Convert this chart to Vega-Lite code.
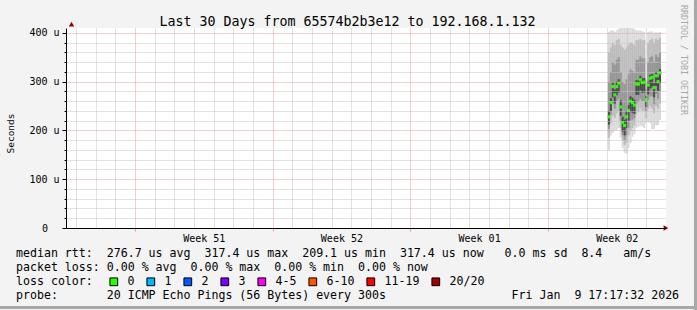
{
  "$schema": "https://vega.github.io/schema/vega-lite/v6.json",
  "width": 600,
  "height": 200,
  "autosize": {"type": "none"},
  "padding": {"left": 66, "top": 28, "right": 31, "bottom": 82},
  "background": "#f3f3f3",
  "config": {
    "font": "DejaVu Sans Mono",
    "view": {"fill": "#ffffff", "stroke": null}
  },
  "title": {
    "text": "Last 30 Days from 65574b2b3e12 to 192.168.1.132",
    "font": "DejaVu Sans Mono",
    "fontSize": 13.3,
    "fontWeight": "normal",
    "color": "#000000",
    "anchor": "middle",
    "frame": "group",
    "dx": -18.5,
    "baseline": "alphabetic",
    "offset": -41
  },
  "datasets": {
    "smoke": [
      {"t": 27.35, "lo": 160, "p10": 185, "p25": 203, "p40": 212, "med": 228, "p60": 240, "p75": 300, "p90": 360, "hi": 402, "loss": "0"},
      {"t": 27.45, "lo": 190, "p10": 215, "p25": 232, "p40": 240, "med": 257, "p60": 266, "p75": 320, "p90": 370, "hi": 405, "loss": "0"},
      {"t": 27.55, "lo": 195, "p10": 230, "p25": 255, "p40": 268, "med": 290, "p60": 298, "p75": 340, "p90": 380, "hi": 405, "loss": "0"},
      {"t": 27.65, "lo": 200, "p10": 225, "p25": 245, "p40": 255, "med": 273, "p60": 284, "p75": 335, "p90": 375, "hi": 402, "loss": "0"},
      {"t": 27.75, "lo": 200, "p10": 235, "p25": 260, "p40": 272, "med": 290, "p60": 300, "p75": 345, "p90": 385, "hi": 405, "loss": "0"},
      {"t": 27.85, "lo": 205, "p10": 240, "p25": 265, "p40": 278, "med": 297, "p60": 305, "p75": 350, "p90": 388, "hi": 408, "loss": "0"},
      {"t": 27.95, "lo": 185, "p10": 205, "p25": 220, "p40": 230, "med": 248, "p60": 262, "p75": 320, "p90": 375, "hi": 410, "loss": "0"},
      {"t": 28.05, "lo": 164, "p10": 180, "p25": 190, "p40": 198, "med": 216, "p60": 228, "p75": 300, "p90": 370, "hi": 410, "loss": "0"},
      {"t": 28.15, "lo": 154, "p10": 170, "p25": 180, "p40": 190, "med": 210, "p60": 222, "p75": 295, "p90": 365, "hi": 410, "loss": "0"},
      {"t": 28.25, "lo": 152, "p10": 175, "p25": 190, "p40": 205, "med": 228, "p60": 240, "p75": 305, "p90": 370, "hi": 410, "loss": "0"},
      {"t": 28.35, "lo": 164, "p10": 190, "p25": 205, "p40": 220, "med": 241, "p60": 252, "p75": 315, "p90": 375, "hi": 410, "loss": "0"},
      {"t": 28.45, "lo": 174, "p10": 200, "p25": 220, "p40": 238, "med": 260, "p60": 270, "p75": 325, "p90": 380, "hi": 410, "loss": "0"},
      {"t": 28.55, "lo": 187, "p10": 205, "p25": 222, "p40": 236, "med": 257, "p60": 267, "p75": 322, "p90": 378, "hi": 410, "loss": "0"},
      {"t": 28.65, "lo": 192, "p10": 210, "p25": 225, "p40": 234, "med": 252, "p60": 263, "p75": 318, "p90": 375, "hi": 408, "loss": "0"},
      {"t": 28.75, "lo": 205, "p10": 235, "p25": 255, "p40": 273, "med": 295, "p60": 303, "p75": 345, "p90": 385, "hi": 405, "loss": "0"},
      {"t": 28.85, "lo": 207, "p10": 238, "p25": 258, "p40": 273, "med": 295, "p60": 303, "p75": 345, "p90": 385, "hi": 405, "loss": "0"},
      {"t": 28.95, "lo": 210, "p10": 245, "p25": 265, "p40": 282, "med": 304, "p60": 312, "p75": 352, "p90": 388, "hi": 405, "loss": "0"},
      {"t": 29.05, "lo": 208, "p10": 240, "p25": 260, "p40": 277, "med": 298, "p60": 307, "p75": 348, "p90": 385, "hi": 403, "loss": "0"},
      {"t": 29.15, "lo": 205, "p10": 240, "p25": 260, "p40": 278, "med": 299, "p60": 307, "p75": 348, "p90": 385, "hi": 402, "loss": "0"},
      {"t": 29.25, "lo": 215, "p10": 225, "p25": 238, "p40": 248, "med": 263, "p60": 270, "p75": 285, "p90": 295, "hi": 302, "loss": "0"},
      {"t": 29.35, "lo": 217, "p10": 245, "p25": 262, "p40": 274, "med": 293, "p60": 300, "p75": 340, "p90": 380, "hi": 402, "loss": "0"},
      {"t": 29.45, "lo": 215, "p10": 250, "p25": 270, "p40": 286, "med": 307, "p60": 314, "p75": 350, "p90": 385, "hi": 403, "loss": "0"},
      {"t": 29.55, "lo": 203, "p10": 245, "p25": 270, "p40": 288, "med": 309, "p60": 316, "p75": 352, "p90": 388, "hi": 403, "loss": "0"},
      {"t": 29.65, "lo": 203, "p10": 235, "p25": 254, "p40": 268, "med": 288, "p60": 297, "p75": 340, "p90": 380, "hi": 400, "loss": "0"},
      {"t": 29.75, "lo": 211, "p10": 250, "p25": 275, "p40": 291, "med": 312, "p60": 320, "p75": 355, "p90": 388, "hi": 402, "loss": "0"},
      {"t": 29.85, "lo": 211, "p10": 245, "p25": 265, "p40": 281, "med": 300, "p60": 309, "p75": 350, "p90": 385, "hi": 400, "loss": "0"},
      {"t": 29.95, "lo": 221, "p10": 255, "p25": 280, "p40": 297, "med": 318, "p60": 326, "p75": 360, "p90": 390, "hi": 402, "loss": "0"}
    ],
    "notes": [
      {"row": 1, "text": "median\u00a0rtt:\u00a0\u00a0276.7\u00a0us\u00a0avg\u00a0\u00a0317.4\u00a0us\u00a0max\u00a0\u00a0209.1\u00a0us\u00a0min\u00a0\u00a0317.4\u00a0us\u00a0now\u00a0\u00a0\u00a00.0\u00a0ms\u00a0sd\u00a0\u00a08.4\u00a0\u00a0\u00a0am/s"},
      {"row": 2, "text": "packet\u00a0loss:\u00a00.00\u00a0%\u00a0avg\u00a0\u00a00.00\u00a0%\u00a0max\u00a0\u00a00.00\u00a0%\u00a0min\u00a0\u00a00.00\u00a0%\u00a0now"},
      {"row": 4, "text": "probe:\u00a0\u00a0\u00a0\u00a0\u00a0\u00a0\u00a020\u00a0ICMP\u00a0Echo\u00a0Pings\u00a0(56\u00a0Bytes)\u00a0every\u00a0300s\u00a0\u00a0\u00a0\u00a0\u00a0\u00a0\u00a0\u00a0\u00a0\u00a0\u00a0\u00a0\u00a0\u00a0\u00a0\u00a0\u00a0\u00a0Fri\u00a0Jan\u00a0\u00a09\u00a017:17:32\u00a02026"}
    ]
  },
  "layer": [
    {
      "data": {"name": "smoke"},
      "resolve": {"axis": {"x": "independent", "y": "independent"}},
      "layer": [
        {
          "mark": {"type": "bar", "orient": "vertical", "width": 2, "color": "#dadada"},
          "encoding": {
            "x": {"field": "t", "type": "quantitative", "scale": {"domain": [0, 30], "nice": false, "zero": false},
              "axis": {"orient": "bottom", "values": [0.25,1.25,2.25,4.25,5.25,6.25,7.25,8.25,9.25,11.25,12.25,13.25,14.25,15.25,16.25,18.25,19.25,20.25,21.25,22.25,23.25,25.25,26.25,27.25,28.25,29.25],
                "grid": true, "gridColor": "#c4c4c4", "gridDash": [1, 1], "gridWidth": 1, "labels": false, "ticks": false, "domain": false, "title": null, "zindex": 1}},
            "y": {"field": "lo", "type": "quantitative", "scale": {"domain": [0, 410], "nice": false, "zero": false},
              "axis": {"orient": "left", "values": [20,40,60,80,120,140,160,180,220,240,260,280,320,340,360,380],
                "grid": true, "gridColor": "#c4c4c4", "gridDash": [1, 1], "gridWidth": 1, "labels": false, "ticks": true, "tickSize": 2, "tickColor": "#000000", "domain": false, "title": null, "zindex": 1}},
            "y2": {"field": "hi"}
          }
        },
        {
          "mark": {"type": "bar", "orient": "vertical", "width": 2, "color": "#bcbcbc"},
          "encoding": {
            "x": {"field": "t", "type": "quantitative", "scale": {"domain": [0, 30], "nice": false, "zero": false},
              "axis": {"orient": "bottom", "values": [3.25, 10.25, 17.25, 24.25],
                "grid": true, "gridColor": "#e4a0a0", "gridDash": [1, 1], "gridWidth": 1, "labels": false, "ticks": true, "tickSize": 3, "tickColor": "#e4a0a0", "domain": false, "title": null, "zindex": 1}},
            "y": {"field": "p10", "type": "quantitative", "scale": {"domain": [0, 410], "nice": false, "zero": false},
              "axis": {"orient": "left", "values": [0, 100, 200, 300, 400],
                "grid": true, "gridColor": "#e4a0a0", "gridDash": [1, 1], "gridWidth": 1,
                "labelExpr": "datum.value == 0 ? '' : datum.value + ' u'",
                "labelFont": "DejaVu Sans Mono", "labelFontSize": 10, "labelColor": "#000000", "labelPadding": 3,
                "ticks": true, "tickSize": 4, "tickColor": "#000000", "domain": false, "title": null, "zindex": 1}},
            "y2": {"field": "p90"}
          }
        },
        {
          "mark": {"type": "bar", "orient": "vertical", "width": 2, "color": "#969696"},
          "encoding": {
            "x": {"field": "t", "type": "quantitative", "scale": {"domain": [0, 30], "nice": false, "zero": false},
              "axis": {"orient": "bottom", "values": [6.75, 13.75, 20.75, 27.75],
                "labelExpr": "datum.value < 10 ? 'Week 51' : datum.value < 17 ? 'Week 52' : datum.value < 24 ? 'Week 01' : 'Week 02'",
                "labelFont": "DejaVu Sans Mono", "labelFontSize": 10, "labelColor": "#000000", "labelPadding": 5,
                "grid": false, "ticks": false, "domain": true, "domainColor": "#000000", "domainWidth": 1, "title": null, "zindex": 1}},
            "y": {"field": "p25", "type": "quantitative", "scale": {"domain": [0, 410], "nice": false, "zero": false},
              "axis": {"orient": "left", "values": [0], "grid": false, "labels": true,
                "labelFont": "DejaVu Sans Mono", "labelFontSize": 10, "labelColor": "#000000", "labelPadding": 18.5,
                "ticks": false, "tickSize": 0, "domain": true, "domainColor": "#000000", "domainWidth": 1, "zindex": 1,
                "title": "Seconds", "titleFont": "DejaVu Sans Mono", "titleFontSize": 9.5, "titleFontWeight": "normal", "titleColor": "#000000",
                "titleAngle": -90, "titleX": -56, "titleY": 105, "titleAlign": "center", "titleBaseline": "middle"}},
            "y2": {"field": "p75"}
          }
        },
        {
          "mark": {"type": "bar", "orient": "vertical", "width": 2, "color": "#4a4a4a"},
          "encoding": {
            "x": {"field": "t", "type": "quantitative", "scale": {"domain": [0, 30], "nice": false, "zero": false}, "axis": null},
            "y": {"field": "p40", "type": "quantitative", "scale": {"domain": [0, 410], "nice": false, "zero": false}, "axis": null},
            "y2": {"field": "p60"}
          }
        },
        {
          "mark": {"type": "point", "shape": "square", "filled": true, "size": 10, "opacity": 1},
          "encoding": {
            "x": {"field": "t", "type": "quantitative", "scale": {"domain": [0, 30], "nice": false, "zero": false}, "axis": null},
            "y": {"field": "med", "type": "quantitative", "scale": {"domain": [0, 410], "nice": false, "zero": false}, "axis": null},
            "color": {"field": "loss", "type": "nominal",
              "scale": {"domain": ["0", "1", "2", "3", "4-5", "6-10", "11-19", "20/20"],
                "range": ["#26ff00", "#00b8ff", "#0059ff", "#7e00ff", "#ff00ff", "#ff5500", "#ff0000", "#a10000"]},
              "legend": {"orient": "none", "legendX": -50, "legendY": 248, "direction": "horizontal", "columns": 8, "padding": 0,
                "title": "loss color:", "titleOrient": "left", "titleFont": "DejaVu Sans Mono", "titleFontSize": 11.6, "titleFontWeight": "normal", "titleColor": "#000000", "titlePadding": 15,
                "symbolType": "square", "symbolSize": 60, "symbolStrokeColor": "#000000", "symbolStrokeWidth": 1, "symbolOpacity": 1,
                "labelFont": "DejaVu Sans Mono", "labelFontSize": 11.6, "labelColor": "#000000", "labelOffset": 8, "columnPadding": 9, "gridAlign": "none"}}
          }
        },
        {
          "data": {"values": [{}]},
          "mark": {"type": "point", "shape": "triangle-right", "filled": true, "size": 30, "color": "#990000", "opacity": 1},
          "encoding": {
            "x": {"datum": 30.25, "type": "quantitative", "scale": {"domain": [0, 30], "nice": false, "zero": false}, "axis": null},
            "y": {"datum": 0, "type": "quantitative", "scale": {"domain": [0, 410], "nice": false, "zero": false}, "axis": null}
          }
        },
        {
          "data": {"values": [{}]},
          "mark": {"type": "point", "shape": "triangle-up", "filled": true, "size": 30, "color": "#990000", "opacity": 1},
          "encoding": {
            "x": {"datum": 0.025, "type": "quantitative", "scale": {"domain": [0, 30], "nice": false, "zero": false}, "axis": null},
            "y": {"datum": 418, "type": "quantitative", "scale": {"domain": [0, 410], "nice": false, "zero": false}, "axis": null}
          }
        },
        {
          "data": {"values": [{"text": "RRDTOOL / TOBI OETIKER"}]},
          "mark": {"type": "text", "angle": 90, "align": "left", "baseline": "middle", "font": "DejaVu Sans Mono", "fontSize": 8.3, "color": "#a8a8a8"},
          "encoding": {
            "x": {"datum": 31.125, "type": "quantitative", "scale": {"domain": [0, 30], "nice": false, "zero": false}, "axis": null},
            "y": {"datum": 457, "type": "quantitative", "scale": {"domain": [0, 410], "nice": false, "zero": false}, "axis": null},
            "text": {"field": "text"}
          }
        }
      ]
    },
    {
      "data": {"name": "notes"},
      "layer": [
        {
          "mark": {"type": "text", "align": "left", "baseline": "middle", "font": "DejaVu Sans Mono", "fontSize": 11.6, "color": "#000000"},
          "encoding": {
            "x": {"datum": 0, "type": "quantitative", "scale": {"domain": [0, 100], "range": [-50, 650]}, "axis": null},
            "y": {"field": "row", "type": "quantitative", "scale": {"domain": [1, 4], "range": [226.3, 268.3]}, "axis": null},
            "text": {"field": "text"}
          }
        },
        {
          "data": {"values": [{}]},
          "mark": {"type": "rule", "color": "#a8a8a8", "strokeWidth": 3},
          "encoding": {
            "x": {"datum": -2.3, "type": "quantitative", "scale": {"domain": [0, 100], "range": [-50, 650]}, "axis": null},
            "x2": {"datum": 97.3},
            "y": {"datum": 4.8, "type": "quantitative", "scale": {"domain": [1, 4], "range": [226.3, 268.3]}, "axis": null}
          }
        },
        {
          "data": {"values": [{}]},
          "mark": {"type": "rule", "color": "#a8a8a8", "strokeWidth": 3},
          "encoding": {
            "x": {"datum": 97.07, "type": "quantitative", "scale": {"domain": [0, 100], "range": [-50, 650]}, "axis": null},
            "y": {"datum": -17.2, "type": "quantitative", "scale": {"domain": [1, 4], "range": [226.3, 268.3]}, "axis": null},
            "y2": {"datum": 5}
          }
        }
      ]
    }
  ],
  "resolve": {"scale": {"x": "independent", "y": "independent"}}
}
